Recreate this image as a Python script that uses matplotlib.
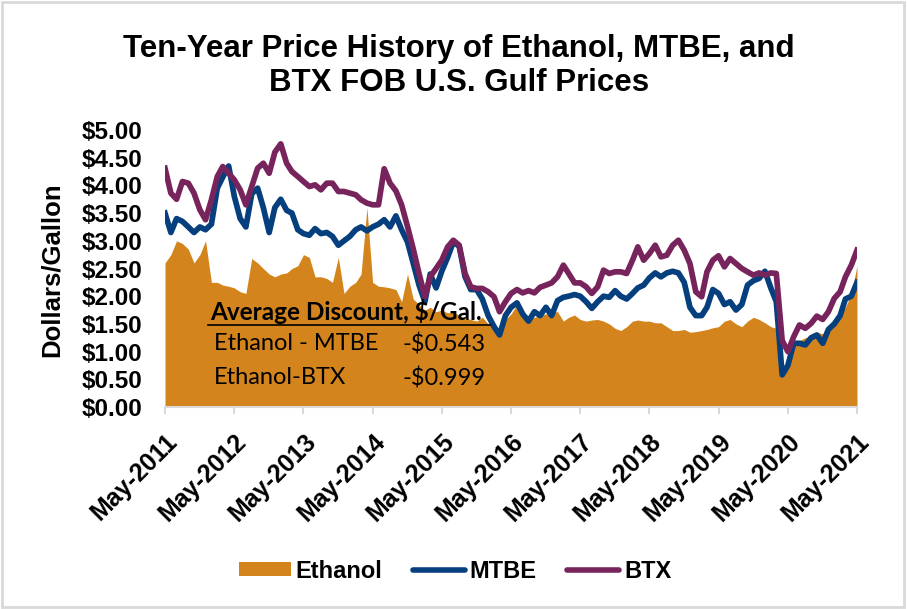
import numpy as np
import matplotlib
matplotlib.use('Agg')
import matplotlib.pyplot as plt
import pandas as pd
from matplotlib.patches import Patch, Rectangle
from matplotlib.lines import Line2D

plt.rcParams['font.family'] = ['Liberation Sans', 'DejaVu Sans']

# monthly prices, $/gal, May-2011 .. May-2021
months = pd.date_range('2011-05-01', periods=121, freq='MS')

ethanol = [2.60, 2.75, 3.00, 2.95, 2.85, 2.60, 2.75, 3.00, 2.25, 2.25, 2.20, 2.18, 2.15, 2.08, 2.05, 2.68, 2.60, 2.50, 2.40, 2.35, 2.40,
           2.42, 2.50, 2.55, 2.75, 2.70, 2.35, 2.35, 2.32, 2.25, 2.70, 2.05, 2.18, 2.25, 2.40, 3.60, 2.25, 2.18, 2.17, 2.15, 2.12,
           1.90, 2.40, 1.95, 1.85, 1.75, 1.80, 1.72, 1.75, 1.70, 1.72, 1.65, 1.60, 1.58, 1.55, 1.62, 1.50, 1.45, 1.40, 1.58, 1.68,
           1.85, 1.68, 1.63, 1.62, 1.65, 1.68, 1.72, 1.72, 1.55, 1.62, 1.66, 1.58, 1.55, 1.57, 1.58, 1.55, 1.50, 1.42, 1.38,
           1.45, 1.55, 1.57, 1.55, 1.55, 1.52, 1.52, 1.45, 1.38, 1.38, 1.40, 1.35, 1.36, 1.38, 1.40, 1.43, 1.45, 1.55, 1.58, 1.50,
           1.45, 1.55, 1.62, 1.58, 1.52, 1.45, 1.42, 0.60, 0.85, 1.15, 1.20, 1.25, 1.28, 1.35, 1.32, 1.42, 1.55, 1.68, 1.80, 2.05, 2.55]

mtbe = [3.50, 3.15, 3.40, 3.35, 3.25, 3.15, 3.25, 3.20, 3.30, 3.95, 4.15, 4.35, 3.80, 3.40, 3.25, 3.85, 3.95, 3.60, 3.15, 3.60, 3.75,
        3.55, 3.50, 3.20, 3.13, 3.10, 3.22, 3.13, 3.15, 3.08, 2.92, 3.00, 3.08, 3.20, 3.25, 3.18, 3.25, 3.30, 3.38, 3.25, 3.45,
        3.20, 2.98, 2.60, 2.20, 1.90, 2.40, 2.15, 2.45, 2.70, 2.98, 2.90, 2.35, 2.12, 2.12, 1.95, 1.65, 1.45, 1.30, 1.65, 1.80,
        1.88, 1.68, 1.55, 1.72, 1.65, 1.80, 1.65, 1.92, 1.98, 2.00, 2.03, 2.00, 1.90, 1.78, 1.90, 2.00, 1.98, 2.10, 2.00,
        1.95, 2.05, 2.15, 2.20, 2.33, 2.42, 2.35, 2.42, 2.45, 2.42, 2.25, 1.80, 1.65, 1.65, 1.80, 2.12, 2.05, 1.85, 1.90, 1.75,
        1.85, 2.20, 2.28, 2.32, 2.45, 2.15, 1.90, 0.58, 0.75, 1.15, 1.15, 1.12, 1.25, 1.30, 1.15, 1.40, 1.50, 1.65, 1.95, 2.00, 2.25]

btx = [4.31, 3.86, 3.75, 4.07, 4.04, 3.86, 3.56, 3.38, 3.74, 4.16, 4.34, 4.22, 4.10, 3.92, 3.65, 3.98, 4.31, 4.40, 4.22, 4.60, 4.75,
       4.40, 4.25, 4.16, 4.07, 3.98, 4.01, 3.92, 4.04, 4.04, 3.89, 3.89, 3.86, 3.83, 3.74, 3.68, 3.65, 3.65, 4.30, 4.04, 3.90,
       3.65, 3.26, 2.86, 2.41, 1.99, 2.35, 2.50, 2.65, 2.89, 3.01, 2.92, 2.41, 2.17, 2.14, 2.14, 2.08, 1.99, 1.72, 1.90, 2.05,
       2.12, 2.06, 2.10, 2.06, 2.16, 2.20, 2.24, 2.35, 2.56, 2.41, 2.24, 2.24, 2.17, 2.05, 2.17, 2.47, 2.41, 2.44, 2.44,
       2.41, 2.65, 2.89, 2.65, 2.77, 2.92, 2.71, 2.74, 2.92, 3.01, 2.83, 2.59, 2.08, 1.99, 2.44, 2.65, 2.73, 2.53, 2.68, 2.59,
       2.50, 2.44, 2.38, 2.42, 2.38, 2.42, 2.41, 1.20, 1.00, 1.27, 1.48, 1.42, 1.51, 1.64, 1.58, 1.72, 1.96, 2.08, 2.35, 2.56, 2.83]

tick_dates = pd.date_range('2011-05-01', '2021-05-01', freq='12MS')
tick_labels = [d.strftime('%b-%Y') for d in tick_dates]
yticks = np.arange(0, 5.01, 0.5)
ytick_labels = ['$%.2f' % v for v in yticks]

discount_rows = ['Ethanol - MTBE', 'Ethanol-BTX']
discount_vals = ['-$0.543', '-$0.999']

orange = '#D4841C'
navy = '#063F7D'
purple = '#78245C'

W, H = 908, 609
fig = plt.figure(figsize=(W / 100, H / 100), dpi=100)
ax = fig.add_axes([165 / W, 1 - 407 / H, 692 / W, 277 / H])

ax.fill_between(months, ethanol, color=orange, lw=0, zorder=1)
ax.plot(months, mtbe, color=navy, lw=4.1, zorder=2)
ax.plot(months, btx, color=purple, lw=4.1, zorder=3)

ax.set_xlim(months[0], months[-1])
ax.set_ylim(0, 5)
ax.set_xticks(tick_dates)
ax.set_xticklabels(tick_labels, rotation=45, ha='right', va='top',
                   rotation_mode='anchor', fontsize=18, fontweight='bold')
ax.set_yticks(yticks)
ax.set_yticklabels(ytick_labels, fontsize=17.5, fontweight='bold')
ax.tick_params(axis='x', direction='out', length=5, width=1.5, color='#d9d9d9', pad=11)
ax.tick_params(axis='y', length=0, pad=16)
for s in ['top', 'right', 'left']:
    ax.spines[s].set_visible(False)
ax.spines['bottom'].set_color('#d9d9d9')
ax.spines['bottom'].set_linewidth(1.5)

fig.text(52 / W, 1 - 270 / H, 'Dollars/Gallon', rotation=90, ha='center', va='center',
         fontsize=18.5, fontweight='bold')
fig.text(459 / W, 1 - 66 / H, 'Ten-Year Price History of Ethanol, MTBE, and\nBTX FOB U.S. Gulf Prices',
         ha='center', va='center', multialignment='center', fontsize=22.5, fontweight='bold',
         linespacing=1.19)

box_font = ['Lato', 'DejaVu Sans']
fig.text(210 / W, 1 - 311 / H, 'Average Discount, $/Gal.', family=box_font, fontweight='bold',
         fontsize=17.5, va='center', zorder=6)
fig.add_artist(Line2D([208 / W, 490 / W], [1 - 325 / H, 1 - 325 / H], color='black', lw=1.2, zorder=6))
for i, (lab, val) in enumerate(zip(discount_rows, discount_vals)):
    yy = 1 - (344 + 34 * i) / H
    fig.text(214 / W, yy, lab, family=box_font, fontsize=17, va='center', zorder=6)
    fig.text(486 / W, yy, val, family=box_font, fontsize=17, va='center', ha='right', zorder=6)

handles = [Patch(facecolor=orange, edgecolor='none'),
           Line2D([], [], color=navy, lw=4, solid_capstyle='round'),
           Line2D([], [], color=purple, lw=4, solid_capstyle='round')]
fig.legend(handles, ['Ethanol', 'MTBE', 'BTX'], loc='center', bbox_to_anchor=(455 / W, 1 - 571 / H),
           ncol=3, frameon=False, prop={'weight': 'bold', 'size': 17}, handlelength=2.2,
           handleheight=0.5, handletextpad=0.2, columnspacing=1.3)

fig.patches.append(Rectangle((0.002, 0.003), 0.994, 0.993, transform=fig.transFigure, fill=False,
                             edgecolor='#d9d9d9', lw=2))

fig.savefig('out.png', dpi=100)
